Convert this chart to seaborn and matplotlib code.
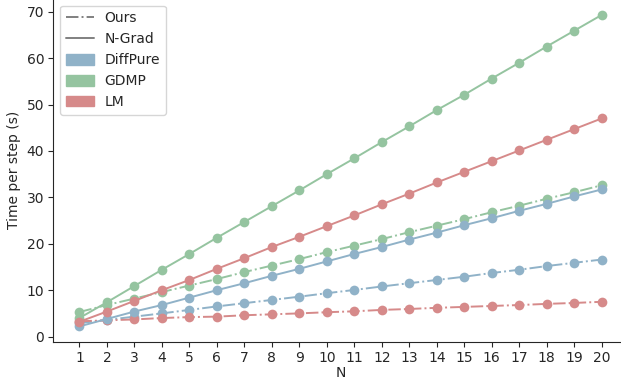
import matplotlib
matplotlib.use("Agg")
import matplotlib.pyplot as plt
import seaborn as sns
import pandas as pd
from matplotlib.lines import Line2D
from matplotlib.patches import Patch

N = list(range(1, 21))
diffpure_ngrad = [2.2, 3.8, 5.4, 6.8, 8.4, 10.0, 11.5, 13.1, 14.6, 16.2, 17.8, 19.3, 20.9, 22.4, 24.0, 25.5, 27.1, 28.6, 30.2, 31.7]
diffpure_ours = [2.9, 3.6, 4.3, 5.0, 5.75, 6.5, 7.2, 7.9, 8.6, 9.35, 10.05, 10.8, 11.5, 12.2, 12.9, 13.7, 14.4, 15.2, 15.9, 16.6]
gdmp_ngrad = [4.0, 7.4, 10.9, 14.4, 17.8, 21.3, 24.7, 28.1, 31.5, 35.0, 38.4, 41.9, 45.3, 48.8, 52.1, 55.6, 59.0, 62.5, 65.9, 69.3]
gdmp_ours = [5.3, 6.8, 8.2, 9.6, 11.0, 12.4, 13.9, 15.3, 16.7, 18.2, 19.6, 21.0, 22.5, 23.9, 25.3, 26.8, 28.2, 29.7, 31.1, 32.6]
lm_ngrad = [3.2, 5.4, 7.7, 10.0, 12.2, 14.6, 16.9, 19.3, 21.5, 23.8, 26.1, 28.5, 30.8, 33.2, 35.5, 37.8, 40.1, 42.4, 44.7, 47.0]
lm_ours = [3.3, 3.5, 3.7, 4.0, 4.2, 4.3, 4.6, 4.8, 5.0, 5.25, 5.45, 5.75, 5.95, 6.2, 6.4, 6.6, 6.8, 7.05, 7.25, 7.5]

colors = {"DiffPure": "#90b2c8", "GDMP": "#95c4a0", "LM": "#d68a8a"}
series = [
    ("DiffPure", "Ours", diffpure_ours),
    ("GDMP", "Ours", gdmp_ours),
    ("LM", "Ours", lm_ours),
    ("DiffPure", "N-Grad", diffpure_ngrad),
    ("GDMP", "N-Grad", gdmp_ngrad),
    ("LM", "N-Grad", lm_ngrad),
]

sns.set_style("ticks")
plt.rcParams['font.family'] = ['DejaVu Sans']

fig = plt.figure(figsize=(6.21, 3.83), dpi=100)
ax = fig.add_axes([53.3 / 621, 1 - 341.7 / 383, (627.8 - 53.3) / 621, (341.7 + 1.3) / 383])

for method, kind, vals in series:
    df = pd.DataFrame({"N": N, "t": vals})
    sns.lineplot(data=df, x="N", y="t", ax=ax, color=colors[method],
                 linestyle="-." if kind == "Ours" else "-", marker="o",
                 markersize=7, markeredgewidth=0, linewidth=1.4)

ax.set_xlim(0.05, 20.95)
ax.set_ylim(-1.1, 72.8)
ax.set_xticks(N)
ax.set_yticks(range(0, 80, 10))
ax.set_xlabel("N", fontsize=10, labelpad=1)
ax.set_ylabel("Time per step (s)", fontsize=10)
ax.tick_params(labelsize=10, pad=3)
sns.despine(ax=ax)

handles = [
    Line2D([0], [0], color="gray", linestyle="-.", linewidth=1.4),
    Line2D([0], [0], color="gray", linestyle="-", linewidth=1.4),
    Patch(color=colors["DiffPure"]),
    Patch(color=colors["GDMP"]),
    Patch(color=colors["LM"]),
]
labels = ["Ours", "N-Grad", "DiffPure", "GDMP", "LM"]
ax.legend(handles, labels, loc="upper left", fontsize=10, frameon=True,
          bbox_to_anchor=(0.0, 1.0), handleheight=0.8)

fig.savefig("out.png", dpi=100)
